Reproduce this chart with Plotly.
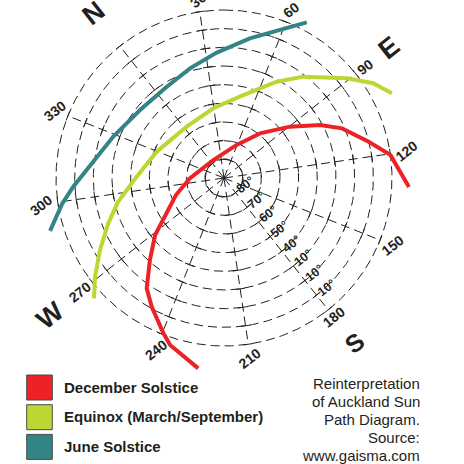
import numpy as np
import plotly.graph_objects as go

# ---------------- data ----------------
series_names = ["December Solstice", "Equinox (March/September)", "June Solstice"]
series_colors = ["#ED2226", "#BED631", "#328584"]

# azimuth (deg, clockwise from North) / altitude (deg)
dec_azimuth = [131.1, 120.4, 114.2, 105.5, 99.4, 90.4, 77.2, 59.3, 7.6, 307.8,
               288.8, 276.7, 268.7, 260.4, 253.3, 247.6, 239.6, 236.2, 226.0]
dec_altitude = [-9.2, 0.0, 10.1, 21.4, 31.2, 45.2, 59.3, 71.0, 78.8, 71.8,
                62.7, 53.9, 42.1, 30.8, 17.8, 10.9, 0.7, -4.0, -12.9]

equ_azimuth = [101.5, 95.9, 89.2, 76.3, 67.0, 51.4, 29.6, 2.3, 329.6, 309.2,
               295.3, 286.9, 278.2, 270.9, 265.5]
equ_altitude = [-10.7, -4.7, 5.3, 21.1, 31.2, 44.4, 52.2, 56.0, 51.3, 43.2,
                31.5, 23.4, 13.2, 3.0, -4.9]

jun_azimuth = [66.3, 61.9, 48.8, 35.0, 21.1, 6.2, 347.3, 328.8, 313.1, 305.0,
               299.4, 291.4]
jun_altitude = [-4.4, 1.6, 13.9, 22.7, 28.5, 32.3, 32.1, 26.7, 17.9, 9.1,
                2.4, -7.4]

ring_altitudes = [80, 70, 60, 50, 40, 30, 20, 10, 0]
ring_labels = ["80°", "70°", "60°", "50°", "40°", "10°", "10°", "10°"]
spoke_azimuths = [0, 30, 60, 90, 120, 150, 180, 210, 240, 270, 300, 330]
spoke_labels = ["", "30", "60", "90", "120", "150", "180", "210", "240", "270", "300", "330"]
cardinal_labels = ["N", "E", "S", "W"]
cardinal_azimuths = [0, 90, 180, 270]

note_lines = ["Reinterpretation", "of Auckland Sun", "Path Diagram.", "Source:", "www.gaisma.com"]

# ---------------- geometry of the diagram ----------------
W = H = 464
CX, CY = 224, 178          # centre of the diagram (px)
S = 168 / 90               # px per degree of zenith distance
ROT = -38.3                # screen bearing of North
xmin, xmax = -CX / S, (W - CX) / S
ymin, ymax = -(H - CY) / S, CY / S
INK = "#231F20"
FONT = "Liberation Sans, Arial, sans-serif"


def to_xy(az, alt):
    r = 90 - np.asarray(alt, dtype=float)
    b = np.radians(np.asarray(az, dtype=float) + ROT)
    return r * np.sin(b), r * np.cos(b)


def to_paper(x, y):
    return (x - xmin) / (xmax - xmin), (y - ymin) / (ymax - ymin)


def px_paper(x, y):
    return x / W, 1 - y / H


fig = go.Figure()

# rings
th = np.linspace(0, 2 * np.pi, 721)
rx, ry = [], []
for alt in ring_altitudes:
    r = 90 - alt
    rx += list(r * np.sin(th)) + [None]
    ry += list(r * np.cos(th)) + [None]
fig.add_trace(go.Scatter(x=rx, y=ry, mode="lines", hoverinfo="skip",
                         line=dict(color=INK, width=1, dash="9px,5px")))

# spokes
sx, sy = [], []
for az in spoke_azimuths:
    x, y = to_xy([az, az], [90, 0])
    sx += list(x) + [None]
    sy += list(y) + [None]
fig.add_trace(go.Scatter(x=sx, y=sy, mode="lines", hoverinfo="skip",
                         line=dict(color=INK, width=1, dash="9px,5px")))

# tick crosses on spokes
tx, ty, ta = [], [], []
for az in spoke_azimuths:
    for alt in ring_altitudes:
        x, y = to_xy(az, alt)
        tx.append(float(x)); ty.append(float(y)); ta.append(az + ROT + 90)
fig.add_trace(go.Scatter(x=tx, y=ty, mode="markers", hoverinfo="skip",
                         marker=dict(symbol="line-ns", size=7, angle=ta,
                                     line=dict(color=INK, width=1))))

# sun paths
for name, col, az, alt in zip(series_names, series_colors,
                              [dec_azimuth, equ_azimuth, jun_azimuth],
                              [dec_altitude, equ_altitude, jun_altitude]):
    x, y = to_xy(az, alt)
    fig.add_trace(go.Scatter(x=x, y=y, mode="lines", name=name,
                             line=dict(color=col, width=4)))

ann = []
base_dir = np.radians(90 + ROT)


def label(x, y, text, size, bold=True):
    px, py = to_paper(x, y)
    return dict(x=px, y=py, xref="paper", yref="paper", text=text, showarrow=False,
                xanchor="center", yanchor="middle", textangle=ROT,
                font=dict(family=FONT, size=size, color=INK,
                          weight="bold" if bold else "normal"))


# azimuth labels
for az, lab in zip(spoke_azimuths, spoke_labels):
    if not lab:
        continue
    w = len(lab) * 0.556 * 14
    d = np.radians(az + ROT) - base_dir
    rpx = 170 + 0.5 * w * abs(np.cos(d)) + 5 * abs(np.sin(d)) + 2
    x, y = to_xy(az, 90 - rpx / S)
    ann.append(label(x, y, lab, 14))

# cardinal letters
for az, lab in zip(cardinal_azimuths, cardinal_labels):
    rr = 118.5 if lab == "W" else 112.5
    x, y = to_xy(az, 90 - rr)
    ann.append(label(x, y, lab, 25 if lab == "S" else 27))

# altitude labels beside the 180 spoke
for alt, lab in zip(ring_altitudes, ring_labels):
    x, y = to_xy(180, alt)
    x = x + 6.6 * np.sin(base_dir)
    y = y + 6.6 * np.cos(base_dir)
    ann.append(label(x, y, lab, 12.5))

# legend (custom swatches), positions in window pixels
shapes = []
row_y = [387.5, 417.2, 446.9]
for name, col, yc in zip(series_names, series_colors, row_y):
    x0, y1 = px_paper(26.7, yc - 12.5)
    x1, y0 = px_paper(52.3, yc + 12.5)
    shapes.append(dict(type="rect", xref="paper", yref="paper",
                       x0=x0, x1=x1, y0=y0, y1=y1,
                       fillcolor=col, line=dict(color="#4A4A4A", width=1)))
    tx_, ty_ = px_paper(61.5, yc - 0.5)
    ann.append(dict(x=tx_, y=ty_, xref="paper", yref="paper", text=name,
                    showarrow=False, xanchor="left", yanchor="middle",
                    font=dict(family=FONT, size=15, color=INK, weight="bold")))

for i, line in enumerate(note_lines):
    tx_, ty_ = px_paper(422, 383 + 18.2 * i)
    ann.append(dict(x=tx_, y=ty_, xref="paper", yref="paper", text=line,
                    showarrow=False, xanchor="right", yanchor="middle",
                    font=dict(family=FONT, size=15, color=INK)))

fig.update_layout(
    width=W, height=H, margin=dict(l=0, r=0, t=0, b=0),
    paper_bgcolor="white", plot_bgcolor="white", showlegend=False,
    xaxis=dict(range=[xmin, xmax], visible=False, fixedrange=True),
    yaxis=dict(range=[ymin, ymax], visible=False, fixedrange=True),
    annotations=ann, shapes=shapes,
)

fig.write_html("out.html",
               config={"displayModeBar": False, "staticPlot": True},
               post_script="document.body.style.margin='0';document.body.style.overflow='hidden';")
